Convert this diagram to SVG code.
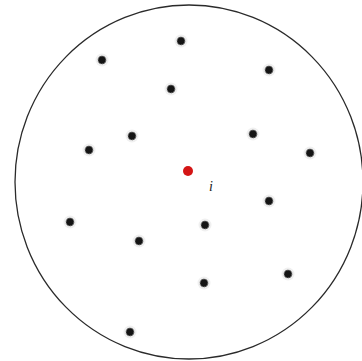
<svg xmlns="http://www.w3.org/2000/svg" width="362" height="361" viewBox="0 0 362 361">
<style>
.dot{fill:#141414;stroke:#8a8a8a;stroke-width:1;stroke-dasharray:1.5 1}
.halo{fill:#f0f0f0}
.lbl{font-family:"Liberation Serif",serif;font-style:italic;font-size:14px;fill:#222}
</style>
<defs>
<g id="pt"><circle r="6.5" class="halo"/><circle r="4" class="dot"/></g>
</defs>
<rect width="362" height="361" fill="#fff"/>
<ellipse id="boundary" cx="189" cy="182" rx="174" ry="177" fill="none" stroke="#2a2a2a" stroke-width="1.3"/>
<g id="points">
<use href="#pt" x="181" y="41"/>
<use href="#pt" x="102" y="60"/>
<use href="#pt" x="269" y="70"/>
<use href="#pt" x="171" y="89"/>
<use href="#pt" x="132" y="136"/>
<use href="#pt" x="253" y="134"/>
<use href="#pt" x="89" y="150"/>
<use href="#pt" x="310" y="153"/>
<use href="#pt" x="269" y="201"/>
<use href="#pt" x="70" y="222"/>
<use href="#pt" x="205" y="225"/>
<use href="#pt" x="139" y="241"/>
<use href="#pt" x="288" y="274"/>
<use href="#pt" x="204" y="283"/>
<use href="#pt" x="130" y="332"/>
</g>
<g id="node-i">
<circle cx="188" cy="171" r="5" fill="#d41515"/>
<text class="lbl" x="209" y="191">i</text>
</g>
</svg>
